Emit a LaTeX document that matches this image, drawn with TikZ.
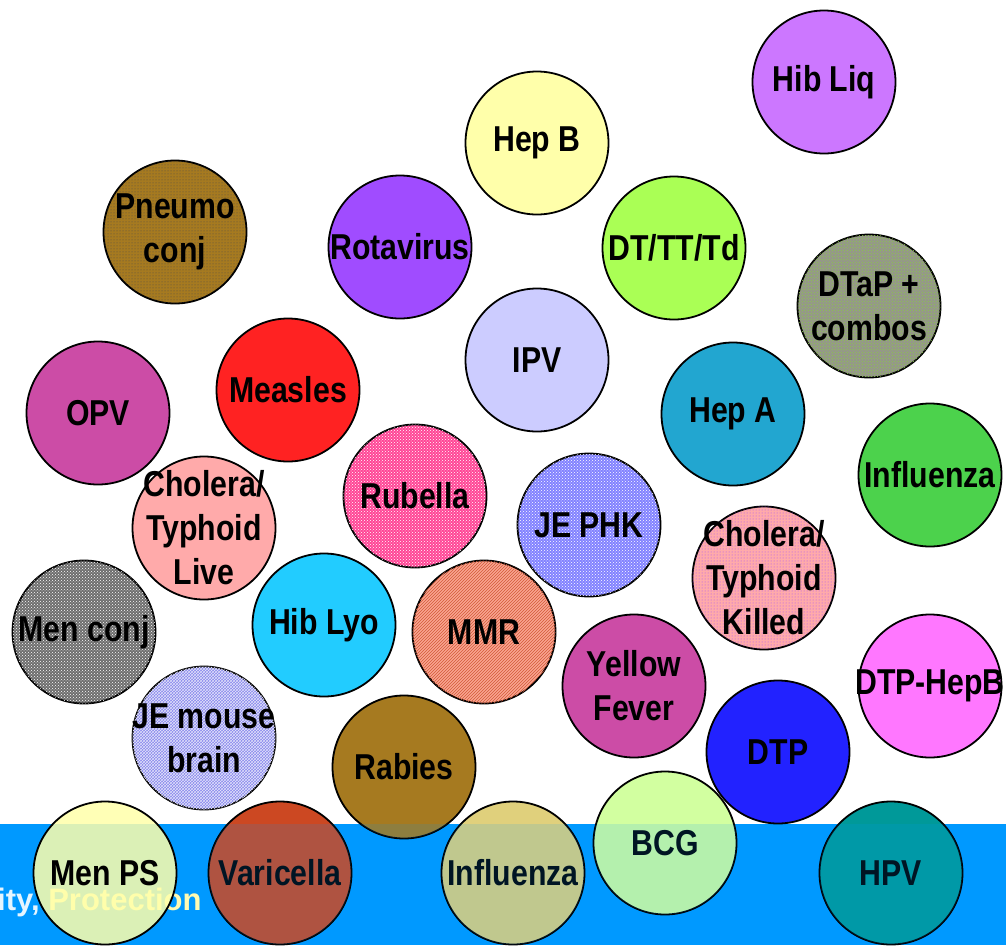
\documentclass[tikz,border=0pt]{standalone}
\usepackage{fontspec}
\setmainfont{Liberation Sans}
\newfontfamily\vaxfont[FakeStretch=0.84]{Liberation Sans Bold}
\usetikzlibrary{patterns}

\definecolor{bandblue}{RGB}{0,153,255}
\definecolor{lilac}{RGB}{204,119,255}
\definecolor{paleyellow}{RGB}{255,255,170}
\definecolor{ochre}{RGB}{166,122,32}
\definecolor{violet}{RGB}{160,76,255}
\definecolor{lime}{RGB}{170,255,85}
\definecolor{stone}{RGB}{150,150,140}
\definecolor{lavender}{RGB}{204,204,255}
\definecolor{orchid}{RGB}{204,76,166}
\definecolor{scarlet}{RGB}{255,34,34}
\definecolor{teal}{RGB}{34,166,208}
\definecolor{leaf}{RGB}{76,210,76}
\definecolor{salmon}{RGB}{255,170,170}
\definecolor{rose}{RGB}{255,70,150}
\definecolor{periwinkle}{RGB}{130,130,255}
\definecolor{ash}{RGB}{110,110,110}
\definecolor{sky}{RGB}{34,204,255}
\definecolor{coral}{RGB}{250,165,145}
\definecolor{magenta}{RGB}{255,119,255}
\definecolor{slateblue}{RGB}{136,136,236}
\definecolor{royal}{RGB}{34,34,255}
\definecolor{rust}{RGB}{204,72,34}
\definecolor{sand}{RGB}{224,208,124}
\definecolor{mint}{RGB}{210,255,160}
\definecolor{seagreen}{RGB}{0,153,153}

\begin{document}
\begin{tikzpicture}[x=1pt, y=-1pt,
    vaccine/.style={circle, draw, line width=1.8pt, minimum size=143pt, inner sep=0pt,
        label={[vaxtext]center:#1}},
    vaxtext/.style={align=center, inner sep=0pt, text opacity=1,
        font=\vaxfont\fontsize{36}{44}\selectfont},
    dotted/.style 2 args={fill=#1, postaction={pattern=dots, pattern color=#2}},
    speckled/.style 2 args={fill=#1, postaction={pattern=crosshatch dots, pattern color=#2}},
    striped/.style 2 args={fill=#1, postaction={pattern=north east lines, pattern color=#2}},
    hatched/.style 2 args={fill=#1, postaction={pattern=crosshatch, pattern color=#2}},
    bannertext/.style={anchor=base west, inner sep=0pt, font=\bfseries\fontsize{31}{36}\selectfont}
]
\useasboundingbox (0,0) rectangle (1006,945);

% banner behind the bubbles
\fill[bandblue] (0,824) rectangle (1006,945);
\node (Banner) [bannertext] at (-3,910)
    {\textcolor{white!90!bandblue}{ity,} \textcolor{yellow!30}{Protection}};

\node (HibLiq)     [vaccine={Hib Liq}, fill=lilac]      at (824,82)  {};
\node (HepB)       [vaccine={Hep B}, fill=paleyellow]   at (537,143) {};
\node (PneumoConj) [vaccine={Pneumo\\conj}, dotted={ochre}{black!70}] at (175,232) {};
\node (Rotavirus)  [vaccine={Rotavirus}, fill=violet]   at (400,247) {};
\node (DTTTTd)     [vaccine={DT/TT/Td}, fill=lime]      at (674,248) {};
\node (DTaP)       [vaccine={DTaP +\\combos}, speckled={stone}{lime!80!black}] at (869,306) {};
\node (IPV)        [vaccine={IPV}, fill=lavender]       at (537,360) {};
\node (OPV)        [vaccine={OPV}, fill=orchid]         at (98,413)  {};
\node (Measles)    [vaccine={Measles}, fill=scarlet]    at (288,390) {};
\node (HepA)       [vaccine={Hep A}, fill=teal]         at (733,414) {};
\node (FluRight)   [vaccine={Influenza}, fill=leaf]     at (930,475) {};
\node (CholLive)   [vaccine={Cholera/\\Typhoid\\Live}, fill=salmon] at (204,528) {};
\node (Rubella)    [vaccine={Rubella}, speckled={rose}{white}] at (415,496) {};
\node (JEPHK)      [vaccine={JE PHK}, speckled={periwinkle}{white}] at (589,525) {};
\node (CholKilled) [vaccine={Cholera/\\Typhoid\\Killed}, dotted={salmon}{violet}] at (764,578) {};
\node (MenConj)    [vaccine={Men conj}, speckled={ash}{white}] at (84,632) {};
\node (HibLyo)     [vaccine={Hib Lyo}, fill=sky]        at (324,625) {};
\node (MMR)        [vaccine={MMR}, striped={coral}{rust!90}] at (484,632) {};
\node (YellowFever)[vaccine={Yellow\\Fever}, fill=orchid] at (634,686) {};
\node (DTPHepB)    [vaccine={DTP-HepB}, fill=magenta]   at (930,686) {};
\node (JEMouse)    [vaccine={JE mouse\\brain}, hatched={slateblue}{white!75!slateblue}] at (204,738) {};
\node (Rabies)     [vaccine={Rabies}, fill=ochre]       at (404,767) {};
\node (DTP)        [vaccine={DTP}, fill=royal]          at (778,752) {};
\node (MenPS)      [vaccine={Men PS}, fill=paleyellow, fill opacity=0.86] at (105,873) {};
\node (Varicella)  [vaccine={Varicella}, fill=rust]     at (280,873) {};
\node (FluBottom)  [vaccine={Influenza}, fill=sand]     at (513,873) {};
\node (BCG)        [vaccine={BCG}, fill=mint]           at (665,843) {};
\node (HPV)        [vaccine={HPV}, fill=seagreen]       at (891,873) {};

% bubbles let the banner show through
\begin{scope}
  \clip (0,824) rectangle (1006,945);
  \fill[bandblue, opacity=0.14] (Varicella) circle[radius=71.5] (FluBottom) circle[radius=71.5]
    (BCG) circle[radius=71.5] (HPV) circle[radius=71.5] (Rabies) circle[radius=71.5];
\end{scope}

\end{tikzpicture}
\end{document}
